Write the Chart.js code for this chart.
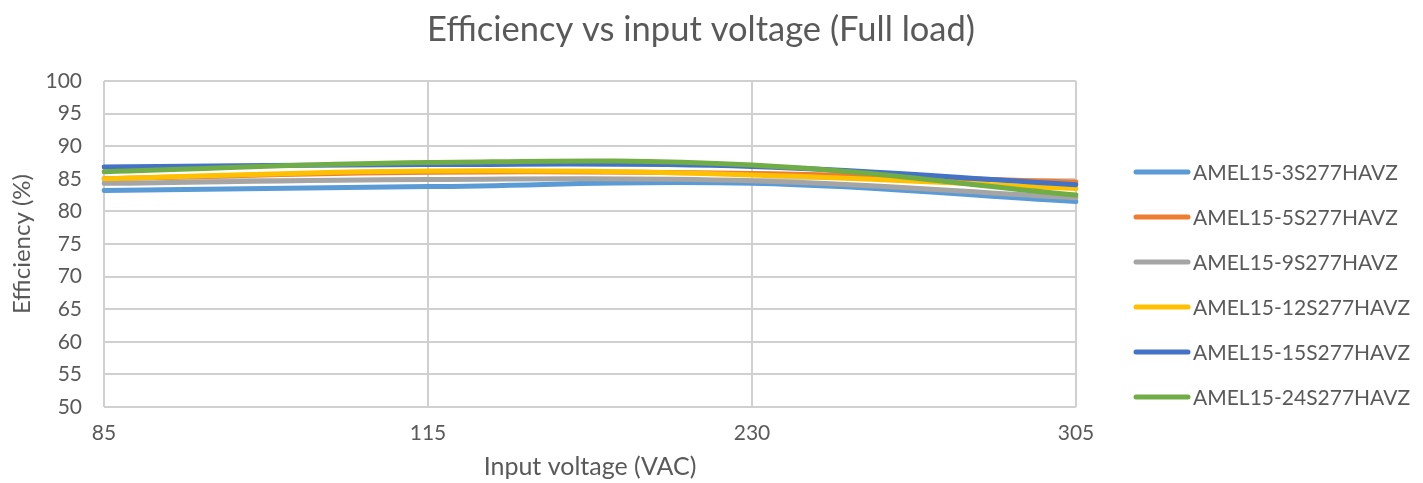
<!DOCTYPE html>
<html>
<head>
<meta charset="utf-8">
<script src="https://cdn.jsdelivr.net/npm/chart.js@4.4.1/dist/chart.umd.min.js"></script>
<style>
html,body{margin:0;padding:0;background:#fff;}
canvas{display:block;}
</style>
</head>
<body>
<canvas id="c" width="1423" height="483"></canvas>
<script>
const categories = ["85", "115", "230", "305"];
const seriesNames = ["AMEL15-3S277HAVZ", "AMEL15-5S277HAVZ", "AMEL15-9S277HAVZ", "AMEL15-12S277HAVZ", "AMEL15-15S277HAVZ", "AMEL15-24S277HAVZ"];
const s3 = [83.2, 83.8, 84.3, 81.5];
const s5 = [85.0, 86.0, 85.8, 84.5];
const s9 = [84.3, 84.9, 84.7, 82.1];
const s12 = [85.0, 86.2, 85.6, 83.5];
const s15 = [86.8, 87.2, 86.9, 84.1];
const s24 = [86.1, 87.5, 87.1, 82.5];
const seriesValues = [s3, s5, s9, s12, s15, s24];
const colors = ["#5B9BD5", "#ED7D31", "#A5A5A5", "#FFC000", "#4472C4", "#70AD47"];
const yTicks = [50, 55, 60, 65, 70, 75, 80, 85, 90, 95, 100];
const titleText = "Efficiency vs input voltage (Full load)";
const xTitle = "Input voltage (VAC)";
const yTitle = "Efficiency (%)";

const FONT = "Lato, 'Open Sans', sans-serif";
const TXT = "#595959";

const datasets = seriesValues.map((vals, i) => ({
  label: seriesNames[i],
  data: vals,
  borderColor: colors[i],
  backgroundColor: colors[i],
  borderWidth: 5,
  pointRadius: 0,
  tension: 0.4,
  fill: false,
  borderCapStyle: 'round',
  order: seriesValues.length - i
}));

const overlay = {
  id: 'overlay',
  afterDraw(chart) {
    const ctx = chart.ctx;
    ctx.save();
    // title
    ctx.fillStyle = TXT;
    ctx.font = "34.5px " + FONT;
    ctx.textAlign = "center";
    ctx.textBaseline = "middle";
    ctx.fillText(titleText, 701, 30);
    // legend
    const y0 = 172, dy = 45;
    ctx.font = "21px " + FONT;
    ctx.textAlign = "left";
    chart.data.datasets.forEach((ds, i) => {
      const y = y0 + i * dy;
      ctx.strokeStyle = ds.borderColor;
      ctx.lineWidth = 5;
      ctx.lineCap = "round";
      ctx.beginPath();
      ctx.moveTo(1136, y);
      ctx.lineTo(1188, y);
      ctx.stroke();
      ctx.fillStyle = TXT;
      ctx.fillText(ds.label, 1193, y + 1);
    });
    ctx.restore();
  }
};

new Chart(document.getElementById('c'), {
  type: 'line',
  data: { labels: categories, datasets },
  options: {
    responsive: false,
    animation: false,
    layout: { padding: { left: 0, right: 1423 - 1076, top: 81, bottom: 0 } },
    plugins: {
      legend: { display: false },
      title: { display: false },
      tooltip: { enabled: false }
    },
    scales: {
      x: {
        type: 'category',
        offset: false,
        grid: { color: "#d0d0d0", lineWidth: 2, drawTicks: false },
        border: { display: false },
        ticks: { color: TXT, font: { family: FONT, size: 21 }, padding: 14, maxRotation: 0 },
        title: { display: true, text: xTitle, color: TXT, font: { family: FONT, size: 25, lineHeight: 1.2 }, padding: { top: 0, bottom: 1 } },
        afterFit(s) { s.height = 483 - 407; }
      },
      y: {
        min: 50, max: 100,
        afterBuildTicks(s) { s.ticks = yTicks.map(v => ({ value: v })); },
        grid: { color: "#d0d0d0", lineWidth: 2, drawTicks: false },
        border: { display: false },
        ticks: { color: TXT, font: { family: FONT, size: 21 }, padding: 22 },
        title: { display: true, text: yTitle, color: TXT, font: { family: FONT, size: 24 }, padding: { top: 8, bottom: 0 } },
        afterFit(s) { s.width = 104; }
      }
    }
  },
  plugins: [overlay]
});
</script>
</body>
</html>
